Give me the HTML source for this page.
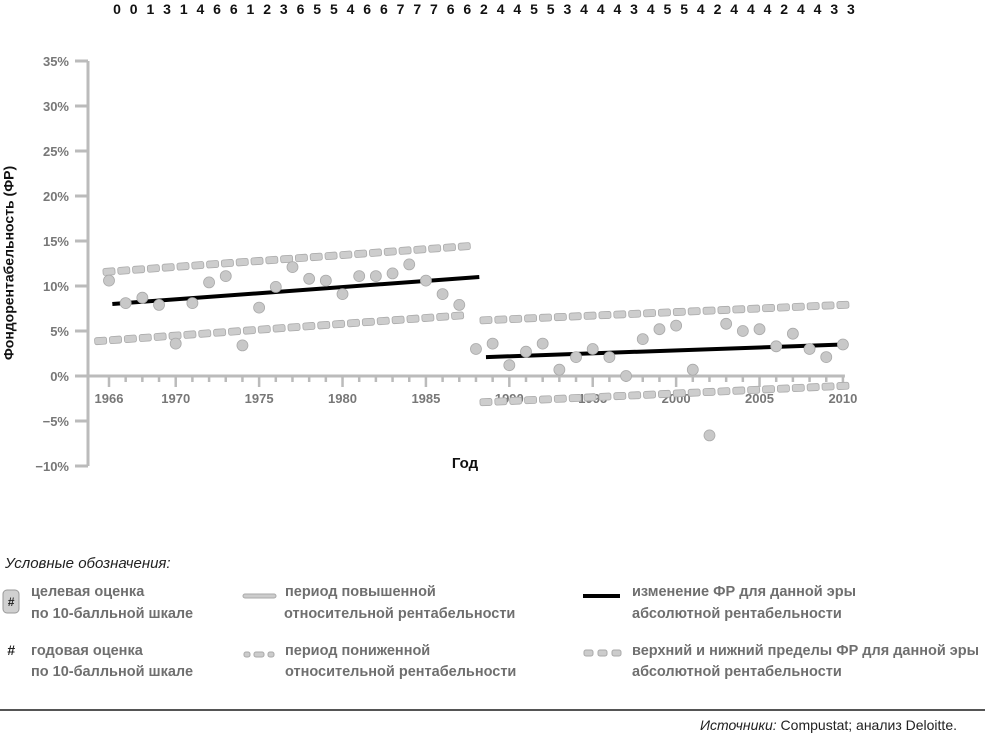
<!DOCTYPE html>
<html><head><meta charset="utf-8">
<style>
html,body{margin:0;padding:0;background:#fff;}
svg{display:block;font-family:"Liberation Sans","Noto Sans CJK SC",sans-serif;}
.tick{fill:#777;font-weight:bold;font-size:13px;}
.leg{fill:#6f6f6f;font-weight:bold;font-size:14.5px;}
</style></head>
<body>
<svg id="chart" width="1000" height="736" viewBox="0 0 1000 736">
<g id="topScores"></g>
<g id="axesG"></g>
<g id="bandsG"></g>
<g id="trendsG"></g>
<g id="ptsG"></g>
<text x="10" y="263" transform="rotate(-90 10 263)" text-anchor="middle" dominant-baseline="middle" font-weight="bold" font-size="14" fill="#111">Фондорентабельность (ФР)</text>
<text x="465" y="468" text-anchor="middle" font-weight="bold" font-size="15" fill="#111">Год</text>

<g>
<text x="5" y="568" font-style="italic" font-size="15" fill="#222">Условные обозначения:</text>
<g>
<rect x="3" y="590" width="16" height="23" rx="4" fill="#d0d0d0" stroke="#999" stroke-width="1"/>
<text x="11" y="606" text-anchor="middle" font-weight="bold" font-style="italic" font-size="12" fill="#222">#</text>
<text class="leg" x="31" y="596">целевая оценка</text>
<text class="leg" x="31" y="618">по 10-балльной шкале</text>
</g>
<g>
<text x="11" y="655" text-anchor="middle" font-weight="bold" font-style="italic" font-size="14" fill="#222">#</text>
<text class="leg" x="31" y="655">годовая оценка</text>
<text class="leg" x="31" y="676">по 10-балльной шкале</text>
</g>
<g>
<rect x="243" y="594" width="33" height="4" rx="2" fill="#ccc" stroke="#aaa" stroke-width="1"/>
<text class="leg" x="285" y="596">период повышенной</text>
<text class="leg" x="284" y="618">относительной рентабельности</text>
</g>
<g>
<rect x="244" y="652" width="6" height="5" rx="2" fill="#ccc" stroke="#aaa"/>
<rect x="254" y="652" width="10" height="5" rx="2" fill="#ccc" stroke="#aaa"/>
<rect x="268" y="652" width="6" height="5" rx="2" fill="#ccc" stroke="#aaa"/>
<text class="leg" x="285" y="655">период пониженной</text>
<text class="leg" x="285" y="676">относительной рентабельности</text>
</g>
<g>
<line x1="583" y1="596" x2="620" y2="596" stroke="#000" stroke-width="4"/>
<text class="leg" x="632" y="596">изменение ФР для данной эры</text>
<text class="leg" x="632" y="618">абсолютной рентабельности</text>
</g>
<g>
<rect x="584" y="650" width="9" height="6" rx="2" fill="#ccc" stroke="#aaa"/>
<rect x="598" y="650" width="9" height="6" rx="2" fill="#ccc" stroke="#aaa"/>
<rect x="612" y="650" width="9" height="6" rx="2" fill="#ccc" stroke="#aaa"/>
<text class="leg" x="632" y="655">верхний и нижний пределы ФР для данной эры</text>
<text class="leg" x="632" y="676">абсолютной рентабельности</text>
</g>
</g>
<line x1="0" y1="710" x2="985" y2="710" stroke="#555" stroke-width="2"/>
<text x="957" y="730" text-anchor="end" font-size="14" fill="#222"><tspan font-style="italic">Источники:</tspan> Compustat; анализ Deloitte.</text>
</svg>
<script>
const years=[];for(let y=1966;y<=2010;y++)years.push(y);
const scores=[0,0,1,3,1,4,6,6,1,2,3,6,5,5,4,6,6,7,7,7,6,6,2,4,4,5,5,3,4,4,4,3,4,5,5,4,2,4,4,4,2,4,4,3,3];
const values=[10.6,8.1,8.7,7.9,3.6,8.1,10.4,11.1,3.4,7.6,9.9,12.1,10.8,10.6,9.1,11.1,11.1,11.4,12.4,10.6,9.1,7.9,3.0,3.6,1.2,2.7,3.6,0.7,2.1,3.0,2.1,0.0,4.1,5.2,5.6,0.7,-6.6,5.8,5.0,5.2,3.3,4.7,3.0,2.1,3.5];
const yTicks=[35,30,25,20,15,10,5,0,-5,-10];
const xLabels=[1966,1970,1975,1980,1985,1990,1995,2000,2005,2010];
const trend1=[1966.2,8.0,1988.2,11.0];
const trend2=[1988.6,2.1,2010,3.5];
const upper1=[1966,11.6,1987.3,14.4];
const lower1=[1965.5,3.9,1986.9,6.7];
const upper2=[1988.6,6.2,2010,7.9];
const lower2=[1988.6,-2.9,2010,-1.1];

const NS="http://www.w3.org/2000/svg";
const X=y=>109+(y-1966)*16.68;
const Y=v=>376-v*9;
function mk(tag,attrs,parent){const e=document.createElementNS(NS,tag);for(const k in attrs)e.setAttribute(k,attrs[k]);parent.appendChild(e);return e;}
const topG=document.getElementById('topScores'),axesG=document.getElementById('axesG'),bandsG=document.getElementById('bandsG'),trendsG=document.getElementById('trendsG'),ptsG=document.getElementById('ptsG');

scores.forEach((s,i)=>{const t=mk('text',{x:X(years[i])+8,y:14,'text-anchor':'middle','font-weight':'bold','font-size':'14',fill:'#111'},topG);t.textContent=s;

});

const ya=mk('line',{x1:88,y1:Y(35),x2:88,y2:Y(-10),stroke:'#bbb','stroke-width':3},axesG);


yTicks.forEach(v=>{mk('line',{x1:75,y1:Y(v),x2:88,y2:Y(v),stroke:'#bbb','stroke-width':3},axesG);
const t=mk('text',{x:69,y:Y(v)+5,'text-anchor':'end',class:'tick'},axesG);t.textContent=(v<0?'\u2212'+(-v):v)+'%';

});
const xa=mk('line',{x1:88,y1:Y(0),x2:X(2010)+2,y2:Y(0),stroke:'#bbb','stroke-width':3},axesG);


years.forEach(y=>{const major=xLabels.includes(y);mk('line',{x1:X(y),y1:Y(0),x2:X(y),y2:Y(0)+(major?11:6),stroke:'#bbb','stroke-width':2.5},axesG);});
xLabels.forEach(y=>{const t=mk('text',{x:X(y),y:403,'text-anchor':'middle',class:'tick'},axesG);t.textContent=y;

});

function dashes(seg,name){const x1=X(seg[0]),y1=Y(seg[1]),x2=X(seg[2]),y2=Y(seg[3]);const len=Math.hypot(x2-x1,y2-y1);const n=Math.floor(len/14.5);const ang=Math.atan2(y2-y1,x2-x1)*180/Math.PI;
const g=mk('g',{},bandsG);


for(let i=0;i<=n;i++){const f=i/n,cx=x1+(x2-x1)*f,cy=y1+(y2-y1)*f;mk('rect',{x:cx-6,y:cy-3.5,width:12,height:7,rx:2,fill:'#cdcdcd',stroke:'#aaa','stroke-width':0.8,transform:`rotate(${ang} ${cx} ${cy})`},g);}}
dashes(upper1,'upper-limit-era1');dashes(lower1,'lower-limit-era1');dashes(upper2,'upper-limit-era2');dashes(lower2,'lower-limit-era2');

[trend1,trend2].forEach((s,i)=>{const l=mk('line',{x1:X(s[0]),y1:Y(s[1]),x2:X(s[2]),y2:Y(s[3]),stroke:'#000','stroke-width':4},trendsG);

});

values.forEach((v,i)=>{const c=mk('circle',{cx:X(years[i]),cy:Y(v),r:5.5,fill:'#c8c8c8',stroke:'#aaa','stroke-width':0.8},ptsG);

});
</script>
</body></html>
